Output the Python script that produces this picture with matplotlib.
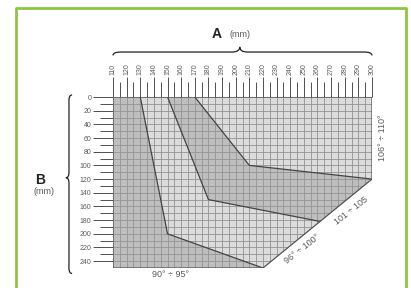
import matplotlib
matplotlib.use('Agg')
import matplotlib.pyplot as plt
import matplotlib.transforms as mtransforms
from matplotlib.patches import Polygon, PathPatch
from matplotlib.path import Path
from matplotlib.lines import Line2D
import numpy as np

plt.rcParams['font.family'] = ['Liberation Sans', 'DejaVu Sans']

# data
a_ticks = list(range(110, 301, 10))
b_ticks = list(range(0, 241, 20))

outline = [(110, 0), (300, 0), (300, 120), (220, 250), (110, 250)]
line_1 = [(130, 0), (150, 200), (220, 250)]
line_2 = [(150, 0), (180, 150), (262, 182)]
line_3 = [(170, 0), (210, 100), (300, 120)]

zone_labels = ['90° ÷ 95°', '96° ÷ 100°', '101 ÷ 105', '106° ÷ 110°']
label_pos = [(152, 259), (249, 223), (285, 166), (308, 60)]
label_rot = [0, 38, 38, 90]

DARK = '#bebebe'
LIGHT = '#dcdcdc'
TXT = '#5a5a5a'

fig = plt.figure(figsize=(4.11, 2.88), dpi=100)
ax = fig.add_axes([113 / 411, 20 / 288, 259 / 411, 171 / 288])
ax.set_xlim(110, 300)
ax.set_ylim(250, 0)

zones = [
    [(110, 0)] + line_1 + [(110, 250)],
    line_1 + line_2[::-1],
    line_2 + line_3[::-1],
    line_3 + [(300, 0)],
]
for i, z in enumerate(zones):
    ax.add_patch(Polygon(z, closed=True, facecolor=DARK if i % 2 == 0 else LIGHT,
                         edgecolor='none', zorder=1))

clip = Polygon(outline, closed=True, transform=ax.transData, facecolor='none', edgecolor='none')
ax.add_patch(clip)
for a in np.arange(110, 301, 5):
    ln, = ax.plot([a, a], [0, 250], color='#939393', lw=0.6, zorder=2)
    ln.set_clip_path(clip)
for b in np.arange(0, 251, 10):
    ln, = ax.plot([110, 300], [b, b], color='#939393', lw=0.6, zorder=2)
    ln.set_clip_path(clip)

for ln in [line_1, line_2, line_3]:
    xs, ys = zip(*ln)
    ax.plot(xs, ys, color='#444444', lw=0.9, zorder=3)

ax.add_patch(Polygon(outline, closed=True, facecolor='none', edgecolor='#555555', lw=0.9, zorder=4))
for s in ax.spines.values():
    s.set_visible(False)

# ticks
ax.xaxis.tick_top()
ax.set_xticks(a_ticks)
ax.set_xticks(np.arange(115, 300, 10), minor=True)
ax.set_xticklabels([str(a) for a in a_ticks], rotation=90, fontsize=5, color=TXT)
ax.set_yticks(b_ticks)
ax.set_yticks(np.arange(10, 250, 20), minor=True)
ax.set_yticklabels([str(b) for b in b_ticks], fontsize=5, color=TXT)
ax.tick_params(axis='x', which='major', length=14.5, width=0.6, color='#333333', pad=1.5)
ax.tick_params(axis='x', which='minor', length=11, width=0.6, color='#333333', top=True, bottom=False)
ax.tick_params(axis='y', which='major', length=14.5, width=0.6, color='#333333', pad=1)
ax.tick_params(axis='y', which='minor', length=9.5, width=0.6, color='#333333')

# zone labels
for txt, (x, y), r in zip(zone_labels, label_pos, label_rot):
    ax.text(x, y, txt, fontsize=6.5, color=TXT, rotation=r, ha='center', va='center',
            rotation_mode='anchor', clip_on=False)

# braces
def brace(x0, x1, xm, yb, d, tip, horizontal=True):
    r = (x1 - x0) * 0.03
    pts = [(x0, yb + d), (x0, yb), (x0 + r, yb), (xm - r, yb), (xm, yb), (xm, yb + tip),
           (xm, yb), (xm + r, yb), (x1 - r, yb), (x1, yb), (x1, yb + d)]
    codes = [Path.MOVETO, Path.CURVE3, Path.CURVE3, Path.LINETO, Path.CURVE3, Path.CURVE3,
             Path.CURVE3, Path.CURVE3, Path.LINETO, Path.CURVE3, Path.CURVE3]
    if not horizontal:
        pts = [(p[1], p[0]) for p in pts]
    return Path(pts, codes)

tr_top = mtransforms.blended_transform_factory(ax.transData, ax.transAxes)
ax.add_patch(PathPatch(brace(110, 300, 203, 1.263, -0.02, 0.03), transform=tr_top,
                       facecolor='none', edgecolor='#222222', lw=0.9, clip_on=False))
tr_left = mtransforms.blended_transform_factory(ax.transAxes, ax.transData)
ax.add_patch(PathPatch(brace(-3, 258, 118, -0.170, 0.012, -0.012, horizontal=False),
                       transform=tr_left, facecolor='none', edgecolor='#222222', lw=0.9,
                       clip_on=False))

# axis titles
ax.text(0.42, 1.37, 'A', transform=ax.transAxes, fontsize=10, fontweight='bold',
        color='#222222', ha='right', va='center')
ax.text(0.45, 1.365, '(mm)', transform=ax.transAxes, fontsize=6.5, color=TXT,
        ha='left', va='center')
ax.text(-0.28, 0.515, 'B', transform=ax.transAxes, fontsize=10, fontweight='bold',
        color='#222222', ha='center', va='center')
ax.text(-0.265, 0.45, '(mm)', transform=ax.transAxes, fontsize=6.5, color=TXT,
        ha='center', va='center')

# green frame
green = '#8dc641'
fx0, fx1, fy1 = 16 / 411, 406 / 411, 280 / 288
fig.add_artist(Line2D([fx0, fx0, fx1, fx1], [0, fy1, fy1, 0], color=green, lw=2,
                      transform=fig.transFigure))

fig.savefig('out.png', dpi=100)
